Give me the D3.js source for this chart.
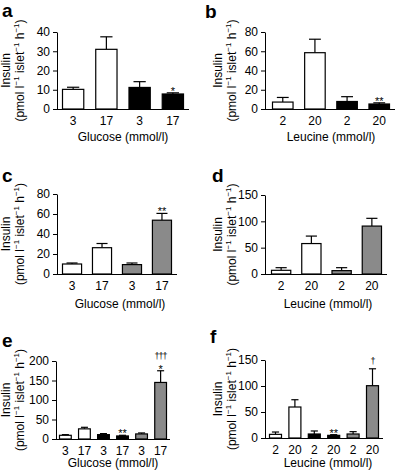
<!DOCTYPE html>
<html>
<head>
<meta charset="utf-8">
<script src="https://cdn.jsdelivr.net/npm/d3@7"></script>
<style>
  body { margin: 0; background: #fff; }
  svg { display: block; font-family: "Liberation Sans", Arial, sans-serif; }
</style>
</head>
<body>
<div id="chart"></div>
<script>
// category labels under the bars
var glucose4 = ["3", "17", "3", "17"];
var leucine4 = ["2", "20", "2", "20"];
var glucose6 = ["3", "17", "3", "17", "3", "17"];
var leucine6 = ["2", "20", "2", "20", "2", "20"];

// bar group (open = control, filled / shaded = the two other islet types)
var groups4Filled = ["open", "open", "filled", "filled"];
var groups4Shaded = ["open", "open", "shaded", "shaded"];
var groups6 = ["open", "open", "filled", "filled", "shaded", "shaded"];

// insulin secretion (pmol l-1 islet-1 h-1), means and SEM
var insulinA = [10.2, 31, 11.2, 7.8];
var semA = [1.1, 6.5, 3, 0.6];
var sigA = ["", "", "", "*"];

var insulinB = [7.2, 58.5, 7.8, 5.2];
var semB = [4.8, 14, 5, 1.2];
var sigB = ["", "", "", "**"];

var insulinC = [10, 26.3, 9.4, 53.8];
var semC = [1, 4.2, 1.6, 6.8];
var sigC = ["", "", "", "**"];

var insulinD = [7, 57.8, 6.4, 91];
var semD = [5, 14.2, 5.6, 14.7];
var sigD = ["", "", "", ""];

var insulinE = [9.5, 26, 11.2, 7.8, 13, 145];
var semE = [1.7, 4, 2.6, 1.7, 2.5, 30];
var sigE = ["", "", "", "**", "", "*"];
var dagE = ["", "", "", "", "", "†††"];

var insulinF = [7, 59.6, 7.7, 5.1, 7.7, 100.6];
var semF = [4.5, 14, 5.8, 1.3, 4.5, 32.5];
var sigF = ["", "", "", "**", "", ""];
var dagF = ["", "", "", "", "", "†"];

// y axis ticks
var ticksA = [0, 10, 20, 30, 40];
var ticks80 = [0, 20, 40, 60, 80];
var ticks150 = [0, 50, 100, 150];
var ticks200 = [0, 50, 100, 150, 200];

var fills = { open: "#ffffff", filled: "#000000", shaded: "#8a8a8a" };

var width = 397, height = 474;
var svg = d3.select("#chart").append("svg")
  .attr("width", width)
  .attr("height", height);

// panel layout
var panels = [
  { letter: "a", lx: 2, ly: 17, labels: glucose4, groups: groups4Filled, values: insulinA, sem: semA, sig: sigA, dag: null,
    ticks: ticksA, axisX: 57, barL: 62, barR: 184, axisR: 189, yTop: 32, y0: 109, title: "Glucose (mmol/l)", tx: 123, ty: 141, labX: 10 },
  { letter: "b", lx: 205, ly: 17.5, labels: leucine4, groups: groups4Filled, values: insulinB, sem: semB, sig: sigB, dag: null,
    ticks: ticks80, axisX: 265, barL: 272, barR: 390, axisR: 395, yTop: 32, y0: 109, title: "Leucine (mmol/l)", tx: 331, ty: 141, labX: 222 },
  { letter: "c", lx: 2, ly: 182, labels: glucose4, groups: groups4Shaded, values: insulinC, sem: semC, sig: sigC, dag: null,
    ticks: ticks80, axisX: 57, barL: 62, barR: 172, axisR: 177, yTop: 194, y0: 274, title: "Glucose (mmol/l)", tx: 120, ty: 308, labX: 10 },
  { letter: "d", lx: 212, ly: 182, labels: leucine4, groups: groups4Shaded, values: insulinD, sem: semD, sig: sigD, dag: null,
    ticks: ticks150, axisX: 265, barL: 271, barR: 382, axisR: 387, yTop: 195, y0: 274, title: "Leucine (mmol/l)", tx: 328, ty: 308, labX: 222 },
  { letter: "e", lx: 2, ly: 347, labels: glucose6, groups: groups6, values: insulinE, sem: semE, sig: sigE, dag: dagE,
    ticks: ticks200, axisX: 56, barL: 59, barR: 167, axisR: 170, yTop: 361, y0: 439, title: "Glucose (mmol/l)", tx: 113, ty: 467, labX: 10 },
  { letter: "f", lx: 210, ly: 343, labels: leucine6, groups: groups6, values: insulinF, sem: semF, sig: sigF, dag: dagF,
    ticks: ticks150, axisX: 265, barL: 269, barR: 379, axisR: 383, yTop: 360, y0: 438, title: "Leucine (mmol/l)", tx: 328, ty: 467, labX: 222 }
];

panels.forEach(drawPanel);

function drawPanel(p) {
  var g = svg.append("g");
  var idx = d3.range(p.values.length);

  var x = d3.scaleBand().domain(idx).range([p.barL, p.barR]).paddingInner(0.33).paddingOuter(0);
  var y = d3.scaleLinear().domain([0, d3.max(p.ticks)]).range([p.y0, p.yTop]);

  // y axis
  var yAxis = g.append("g")
    .attr("transform", "translate(" + p.axisX + ",0)")
    .call(d3.axisLeft(y).tickValues(p.ticks).tickSize(4).tickPadding(3).tickSizeOuter(0));
  yAxis.selectAll("text").attr("font-size", 12).attr("fill", "#000").attr("font-family", null);
  yAxis.selectAll("line,path").attr("stroke", "#000");

  // x axis labels (no ticks)
  var xAxis = g.append("g")
    .attr("transform", "translate(0," + p.y0 + ")")
    .call(d3.axisBottom(x).tickSize(0).tickPadding(7).tickFormat(function (i) { return p.labels[i]; }));
  xAxis.select(".domain").remove();
  xAxis.selectAll("text").attr("font-size", 12).attr("fill", "#000").attr("font-family", null);

  // error bars
  var eb = g.append("g").selectAll("g")
    .data(idx)
    .join("g");
  eb.append("line")
    .attr("x1", function (i) { return x(i) + x.bandwidth() / 2; })
    .attr("x2", function (i) { return x(i) + x.bandwidth() / 2; })
    .attr("y1", function (i) { return y(p.values[i]); })
    .attr("y2", function (i) { return y(p.values[i] + p.sem[i]); })
    .attr("stroke", "#000").attr("stroke-width", 1.2);
  eb.append("line")
    .attr("x1", function (i) { return x(i) + x.bandwidth() * 0.225; })
    .attr("x2", function (i) { return x(i) + x.bandwidth() * 0.775; })
    .attr("y1", function (i) { return y(p.values[i] + p.sem[i]); })
    .attr("y2", function (i) { return y(p.values[i] + p.sem[i]); })
    .attr("stroke", "#000").attr("stroke-width", 1.2);

  // bars
  g.append("g").selectAll("rect")
    .data(idx)
    .join("rect")
    .attr("x", function (i) { return x(i) + 0.5; })
    .attr("y", function (i) { return y(p.values[i]); })
    .attr("width", x.bandwidth() - 1)
    .attr("height", function (i) { return y(0) - y(p.values[i]); })
    .attr("fill", function (i) { return fills[p.groups[i]]; })
    .attr("stroke", "#000")
    .attr("stroke-width", 1.2);

  // x axis line from the y axis to the end
  g.append("line")
    .attr("x1", p.axisX).attr("x2", p.axisR)
    .attr("y1", p.y0 + 0.5).attr("y2", p.y0 + 0.5)
    .attr("stroke", "#000").attr("stroke-width", 1.2);

  // significance marks
  g.append("g").selectAll("text")
    .data(idx.filter(function (i) { return p.sig[i]; }))
    .join("text")
    .attr("x", function (i) { return x(i) + x.bandwidth() / 2; })
    .attr("y", function (i) { return y(p.values[i] + p.sem[i]) + 2; })
    .attr("text-anchor", "middle")
    .attr("font-size", 11)
    .attr("fill", "#000")
    .text(function (i) { return p.sig[i]; });

  if (p.dag) {
    g.append("g").selectAll("text")
      .data(idx.filter(function (i) { return p.dag[i]; }))
      .join("text")
      .attr("x", function (i) { return x(i) + x.bandwidth() / 2; })
      .attr("y", function (i) { return y(p.values[i] + p.sem[i]) - (p.sig[i] ? 12 : 5); })
      .attr("text-anchor", "middle")
      .attr("font-size", 9)
      .attr("letter-spacing", -1)
      .attr("fill", "#000")
      .text(function (i) { return p.dag[i]; });
  }

  // x axis title
  g.append("text")
    .attr("x", p.tx).attr("y", p.ty)
    .attr("text-anchor", "middle")
    .attr("font-size", 12)
    .text(p.title);

  // y axis title, two lines
  var cy = (p.yTop + p.y0) / 2;
  g.append("text")
    .attr("transform", "translate(" + p.labX + "," + cy + ") rotate(-90)")
    .attr("text-anchor", "middle")
    .attr("font-size", 12)
    .text("Insulin");
  var t2 = g.append("text")
    .attr("transform", "translate(" + (p.labX + 14) + "," + cy + ") rotate(-90)")
    .attr("text-anchor", "middle")
    .attr("font-size", 12);
  var parts = [["(pmol l", false], ["−1", true], [" islet", false], ["−1", true], [" h", false], ["−1", true], [")", false]];
  parts.forEach(function (d) {
    var ts = t2.append("tspan").text(d[0]);
    if (d[1]) ts.attr("font-size", 8).attr("dy", -5);
    else if (d[0] !== "(pmol l") ts.attr("dy", 5);
  });

  // panel letter
  g.append("text")
    .attr("x", p.lx).attr("y", p.ly)
    .attr("font-size", 19)
    .attr("font-weight", "bold")
    .text(p.letter);
}
</script>
</body>
</html>
